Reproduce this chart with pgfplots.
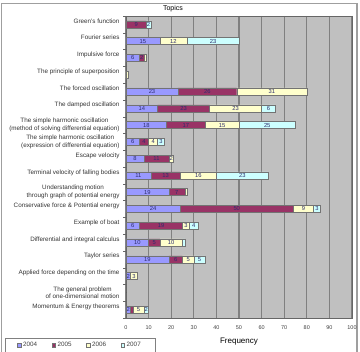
\documentclass[border=0pt]{standalone}
\usepackage{pgfplots}
\pgfplotsset{compat=1.18}
\usepackage{pgfplotstable}
\usepackage{fontspec}
\setmainfont{Liberation Sans}
\definecolor{c04}{RGB}{153,153,255}
\definecolor{c05}{RGB}{153,51,102}
\definecolor{c06}{RGB}{255,255,204}
\definecolor{c07}{RGB}{204,255,255}
\definecolor{plotbg}{RGB}{192,192,192}
\definecolor{gridc}{RGB}{128,128,128}
\definecolor{lblc}{RGB}{45,45,110}

% row: 0 = top category; a=2004, b=2005, c=2006, d=2007
\pgfplotstableread{
row a b c d
0 0 9 0 2
1 15 0 12 23
2 6 2 1 0
3 0 0 1 0
4 23 26 31 0
5 14 23 23 6
6 18 17 15 25
7 6 4 4 3
8 8 11 2 0
9 11 13 16 23
10 19 7 1 0
11 24 50 9 3
12 6 19 3 4
13 10 5 10 1
14 19 6 5 5
15 2 0 3 0
16 0 0 0 0
17 2 1 5 2
}\datatable

\newcommand{\one}[1]{\raisebox{1.3pt}[0pt][0pt]{#1}}
\newcommand{\seglabel}{\ifdim\segw pt<1.5pt\else\pgfmathprintnumber[fixed,precision=0,assume math mode=true]{\segw}\fi}

\pgfplotsset{
  frame/.style={at={(126pt,34pt)}, anchor=south west,
    scale only axis, width=226pt, height=302pt,
    xmin=0, xmax=100, ymin=-0.5, ymax=17.5, y dir=reverse},
  seglbl/.style={only marks, mark=*, mark size=0pt, mark options={draw=none,fill=none},
    visualization depends on={\thisrow{#1} \as \segw},
    nodes near coords={\seglabel},
    every node near coord/.style={anchor=center, inner sep=0pt,
      font=\fontsize{5.8}{6}\selectfont, text=lblc}},
}

\begin{document}
\begin{tikzpicture}[x=1pt,y=1pt]
\useasboundingbox (0pt,0pt) rectangle (360pt,352pt);
\draw[gray!75, line width=1.5pt] (1.5pt,-5pt) -- (1.5pt,348.5pt) -- (357pt,348.5pt) -- (357pt,-5pt);
\begin{axis}[
  frame,
  xbar stacked, bar width=7pt,
  xtick={0,10,...,100},
  ytick={0,...,17},
  minor ytick={-0.5,0.5,...,17.5},
  major tick length=0pt, minor tick length=2.5pt,
  tick align=outside, tick pos=left,
  minor tick style={draw=black!60},
  axis background/.style={fill=plotbg},
  axis line style={draw=gray!80!black, line width=0.5pt},
  xmajorgrids, major grid style={draw=gridc, line width=1.2pt},
  /pgf/number format/assume math mode=true,
  xticklabel style={font=\fontsize{5.5}{7}\selectfont, text=black!75, yshift=-4pt},
  yticklabel style={font=\fontsize{6.3}{7.6}\selectfont, text=black!80, align=center, xshift=-3pt},
  yticklabels={
    {\one{Green's function}},
    {\one{Fourier series}},
    {\one{Impulsive force}},
    {\one{The principle of superposition}},
    {\one{The forced oscillation}},
    {\one{The damped oscillation}},
    {The simple harmonic oscillation\\(method of solving differential equation)},
    {The simple harmonic oscillation\\(expression of differential equation)},
    {\one{Escape velocity}},
    {\one{Terminal velocity of falling bodies}},
    {Understanding motion\\through graph of potential energy},
    {\one{Conservative force \& Potential energy}},
    {\one{Example of boat}},
    {\one{Differential and integral calculus}},
    {\one{Taylor series}},
    {\one{Applied force depending on the time}},
    {The general problem\\of one-dimensional motion},
    {\one{Momentum \& Energy theorems}}
  },
  xlabel={Frequency},
  xlabel style={at={(axis description cs:0.5,-0.0785)}, anchor=center, font=\fontsize{8}{9}\selectfont},
  legend columns=4,
  legend image code/.code={\draw[#1] (0pt,-1.8pt) rectangle (3.6pt,1.8pt);},
  legend style={at={(axis description cs:-0.5354,-0.0662)}, anchor=north west,
     draw=gray, fill=white, font=\fontsize{6.3}{7}\selectfont, text=black!75,
     inner xsep=12pt, inner ysep=2pt,
     /tikz/every even column/.append style={column sep=12.5pt}},
]
\addplot[fill=c04, draw=black!55] table[x=a,y=row] {\datatable};
\addplot[fill=c05, draw=black!55] table[x=b,y=row] {\datatable};
\addplot[fill=c06, draw=black!55] table[x=c,y=row] {\datatable};
\addplot[fill=c07, draw=black!55] table[x=d,y=row] {\datatable};
\legend{2004,2005,2006,2007}
\end{axis}
% value labels, centred on each segment
\begin{axis}[frame, hide axis, /pgf/number format/assume math mode=true]
\addplot[seglbl=a] table[x expr={\thisrow{a}/2}, y=row] {\datatable};
\addplot[seglbl=b] table[x expr={\thisrow{a}+\thisrow{b}/2}, y=row] {\datatable};
\addplot[seglbl=c] table[x expr={\thisrow{a}+\thisrow{b}+\thisrow{c}/2}, y=row] {\datatable};
\addplot[seglbl=d] table[x expr={\thisrow{a}+\thisrow{b}+\thisrow{c}+\thisrow{d}/2}, y=row] {\datatable};
\end{axis}
\node[font=\fontsize{7}{8}\selectfont] at (173pt,343pt) {Topics};
\end{tikzpicture}
\end{document}
